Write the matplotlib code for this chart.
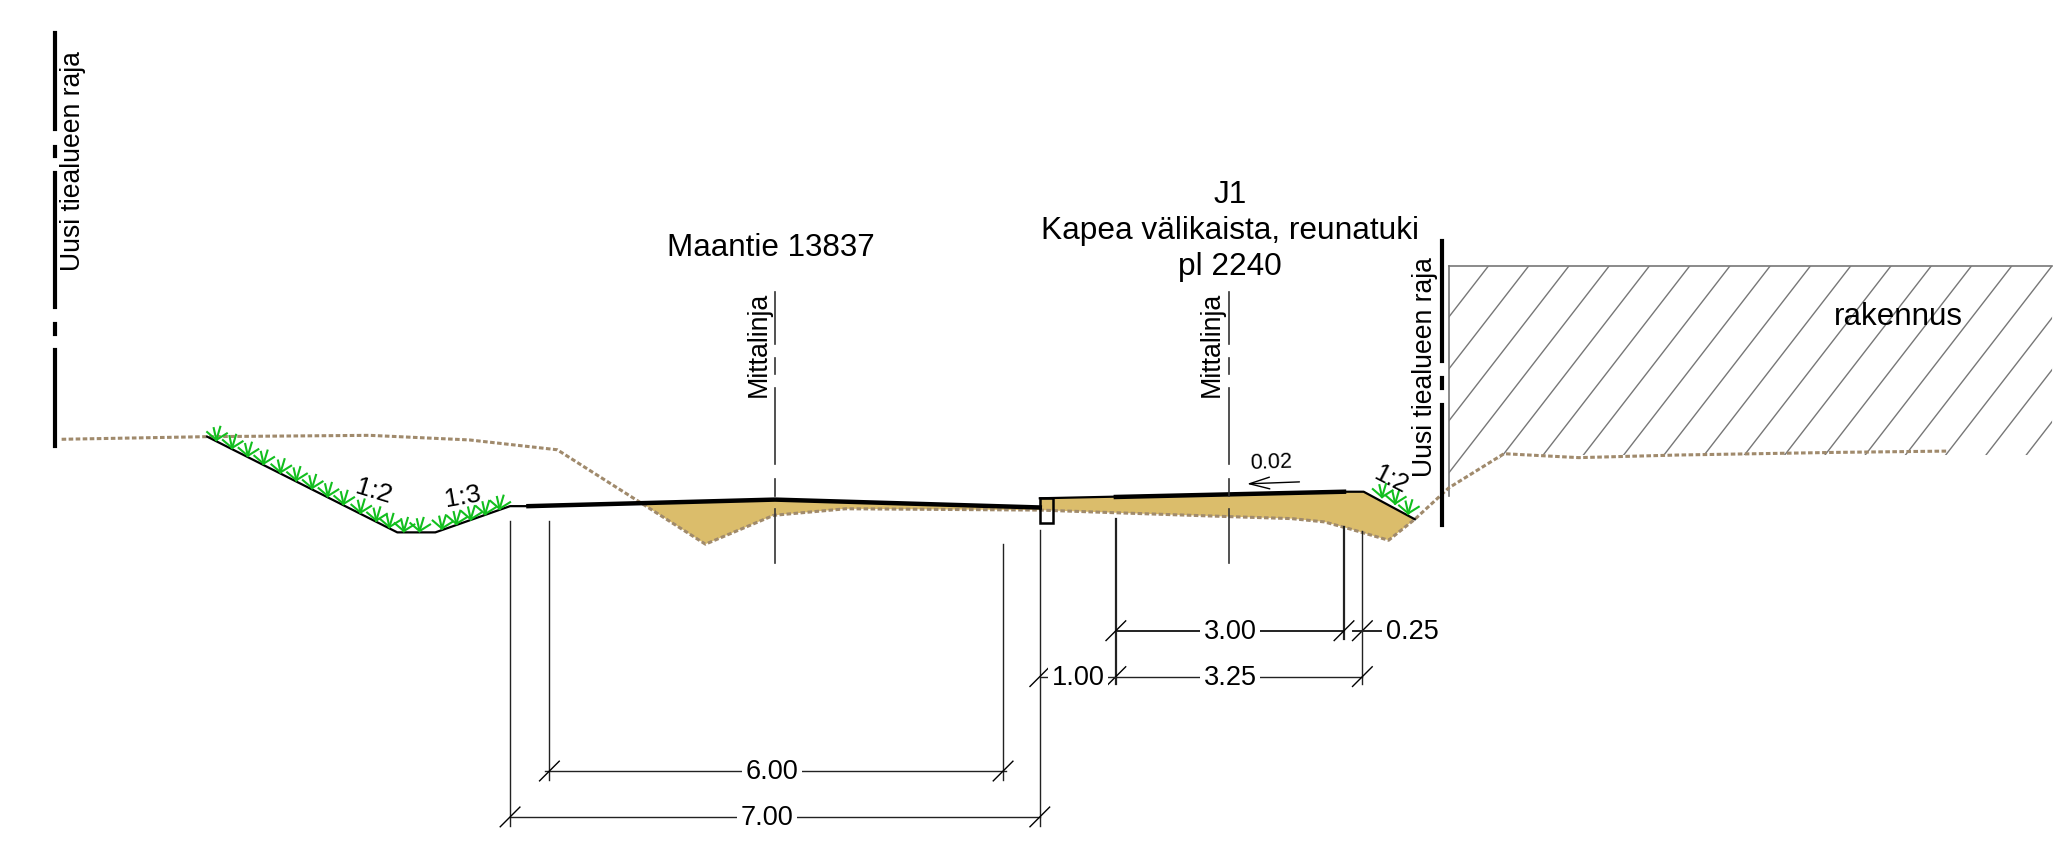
import matplotlib
matplotlib.use('Agg')
import matplotlib.pyplot as plt
from matplotlib.patches import Polygon, Rectangle
import numpy as np

plt.rcParams['font.family'] = ['Liberation Sans', 'DejaVu Sans']

# everything is measured in drawing units, sheet is 1568 x 653
SHEET_W = 1568
SHEET_H = 652.8

ground_x = [47, 158, 282, 358, 425, 488, 538, 590, 645, 793, 850, 938, 985, 1010, 1030, 1059, 1079, 1105, 1147, 1204, 1280, 1400, 1486]
ground_y = [335, 333, 332, 335.5, 343, 383, 415, 393, 388, 389, 391, 394, 395.5, 398, 403.5, 412, 396, 372, 346, 349, 347, 345, 344]

fill_x = [488, 591, 793, 793, 1025, 1040, 1079, 1059, 1030, 1010, 985, 938, 850, 793, 645, 590, 538]
fill_y = [383, 381, 387, 380, 375, 375, 396, 412, 403.5, 398, 395.5, 394, 391, 389, 388, 393, 415]

ditch_x = [158, 303, 332, 389, 403]
ditch_y = [333, 406, 406, 386, 386]
verge_x = [793, 1025, 1040, 1079]
verge_y = [380, 375, 375, 396]
road_x = [403, 591, 793]
road_y = [386, 381, 387]
lane_x = [851, 1025]
lane_y = [379, 375]

grass_x = [165, 177, 189, 201, 214, 226, 238, 250, 262, 275, 287, 297, 308, 320, 337, 348, 359, 370, 381, 1054, 1064, 1074]
grass_y = [335.5, 341.6, 347.6, 353.6, 360.2, 366.2, 372.2, 378.3, 384.3, 390.9, 396.9, 401.9, 405, 405, 403, 399.5, 396, 392, 388, 379, 384, 391.5]

border_left = [(25, 98), (112, 119), (132, 234), (247, 255), (267, 340)]
border_right = [(184, 275), (288, 296), (309, 400)]

center_x = [591, 937]
center_segs = [(222.5, 262), (273, 285), (296, 354), (365, 378), (388, 429)]

# x, top, bottom, line width
dim_v = [(389, 397, 630, 1.0), (419, 397, 595, 1.0), (765, 415, 595, 1.0), (793, 404, 630, 1.0),
         (851, 396, 522, 1.6), (1025, 402, 487, 1.6), (1039, 405, 522, 1.0)]
dim_h = [(416, 767, 588, 1.0), (389, 793, 623, 1.0), (851, 1025, 481, 1.4), (851, 1039, 516, 1.0)]
dim_ticks = [(419, 588), (765, 588), (389, 623), (793, 623), (851, 481), (1025, 481),
             (1039, 481), (851, 516), (1039, 516), (793, 516)]
dim_labels = ['6.00', '7.00', '3.00', '3.25', '1.00', '0.25']
dim_label_x = [589, 585, 938, 938, 822, 1077]
dim_label_y = [589, 624, 482, 517, 517, 482]

fig = plt.figure(figsize=(20.56, 8.56), dpi=100)
ax = fig.add_axes([0, 0, 1, 1])
ax.set_xlim(0, SHEET_W)
ax.set_ylim(SHEET_H, 0)
ax.axis('off')

# building with hatch
house = Polygon([(1105, 203), (1565, 203), (1565, 347), (1147, 347), (1133, 358), (1105, 378)],
                facecolor='none', edgecolor='none')
ax.add_patch(house)
for x0 in np.arange(1135, 1135 + 31 * 24, 30.7):
    ln, = ax.plot([x0, x0 - 155], [203, 403], color='#777777', lw=1.0, zorder=1)
    ln.set_clip_path(house)
ax.plot([1105, 1565], [203, 203], color='#777777', lw=1.2, zorder=1)
ax.plot([1105, 1105], [203, 378], color='#777777', lw=1.2, zorder=1)

# embankment fill and lines
ax.fill(fill_x, fill_y, color='#dbbd6b', lw=0, zorder=2)
ax.plot(ground_x, ground_y, color='#a08a6c', lw=2.2, ls=(0, (1.5, 0.8)), zorder=3)
ax.plot(ditch_x, ditch_y, color='black', lw=1.6, zorder=4)
ax.plot(verge_x, verge_y, color='black', lw=1.6, zorder=4)
ax.plot(road_x, road_y, color='black', lw=3.2, zorder=4)
ax.plot(lane_x, lane_y, color='black', lw=3.2, zorder=4)
ax.add_patch(Rectangle((793, 380), 10, 18.5, facecolor='none', edgecolor='black', lw=1.8, zorder=5))

# grass tufts
for gx, gy in zip(grass_x, grass_y):
    for dx, dy in [(-7, -6), (-2, -9), (3, -10), (8, -5)]:
        ax.plot([gx, gx + dx], [gy, gy + dy], color='#12bf1e', lw=1.5, zorder=4)

# property lines
for y0, y1 in border_left:
    ax.plot([42, 42], [y0, y1], color='black', lw=3, zorder=4)
for y0, y1 in border_right:
    ax.plot([1100, 1100], [y0, y1], color='black', lw=3, zorder=4)

# centre lines
for cx in center_x:
    for y0, y1 in center_segs:
        ax.plot([cx, cx], [y0, y1], color='#333333', lw=1.2, zorder=4)

# dimensions
for x, y0, y1, w in dim_v:
    ax.plot([x, x], [y0, y1], color='#222222', lw=w, zorder=4)
for x0, x1, y, w in dim_h:
    ax.plot([x0, x1], [y, y], color='#222222', lw=w, zorder=4)
for x, y in dim_ticks:
    ax.plot([x - 7.5, x + 7.5], [y + 7.5, y - 7.5], color='black', lw=1.0, zorder=4)
ax.plot([1032, 1053], [481, 481], color='#222222', lw=1.4, zorder=4)
ax.plot([793, 851], [516, 516], color='#222222', lw=1.0, zorder=4)
for lab, x, y in zip(dim_labels, dim_label_x, dim_label_y):
    ax.text(x, y, lab, fontsize=19.5, ha='center', va='center', zorder=6,
            bbox=dict(facecolor='white', edgecolor='none', pad=2.5))

# slope arrow
ax.annotate('', xy=(951, 369), xytext=(991, 367.5),
            arrowprops=dict(arrowstyle='->,head_length=1.45,head_width=0.42', lw=1.0, color='black',
                            shrinkA=0, shrinkB=0), zorder=6)
ax.text(969, 353, '0.02', fontsize=15.5, ha='center', va='center', rotation=2)

# titles
ax.text(588, 189.5, 'Maantie 13837', fontsize=22.6, ha='center', va='center')
ax.text(938, 176, 'J1\nKapea välikaista, reunatuki\npl 2240', fontsize=22.8, ha='center', va='center',
        linespacing=1.25)
ax.text(1448, 241.5, 'rakennus', fontsize=22.6, ha='center', va='center')
ax.text(55.5, 123, 'Uusi tiealueen raja', fontsize=19.1, rotation=90, ha='center', va='center')
ax.text(1087, 280, 'Uusi tiealueen raja', fontsize=19.1, rotation=90, ha='center', va='center')
ax.text(578.5, 263, 'Mittalinja', fontsize=19.3, rotation=90, ha='center', va='center')
ax.text(924.5, 263, 'Mittalinja', fontsize=19.3, rotation=90, ha='center', va='center')
ax.text(285, 375, '1:2', fontsize=19, rotation=-17, ha='center', va='center')
ax.text(353, 379, '1:3', fontsize=19, rotation=10, ha='center', va='center')
ax.text(1061, 366, '1:2', fontsize=18, rotation=-27, ha='center', va='center', zorder=6)

fig.savefig('out.png', dpi=100)
